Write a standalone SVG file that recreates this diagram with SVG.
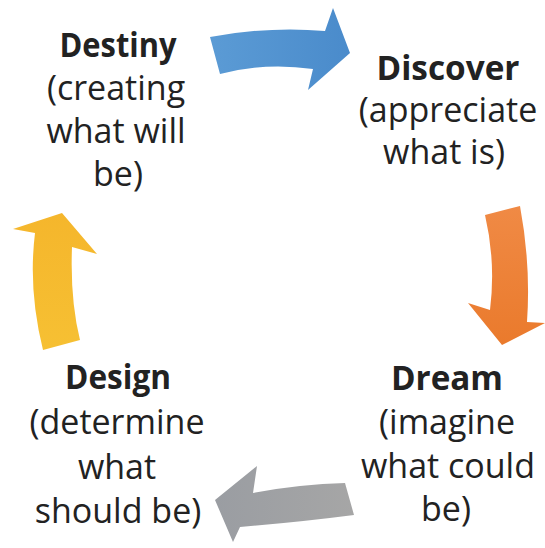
<svg xmlns="http://www.w3.org/2000/svg" width="545" height="548" viewBox="0 0 545 548">
  <style>
    text { font-family: "Open Sans", "Noto Sans", "DejaVu Sans", sans-serif; font-size: 34px; fill: #222222; text-anchor: middle; }
    .title { font-weight: bold; }
  </style>
  <defs>
    <linearGradient id="gBlue" x1="0" y1="0" x2="1" y2="0">
      <stop offset="0" stop-color="#5b9bd5"/>
      <stop offset="1" stop-color="#4a8bcb"/>
    </linearGradient>
    <linearGradient id="gOrange" x1="0" y1="0" x2="0" y2="1">
      <stop offset="0" stop-color="#f08a45"/>
      <stop offset="1" stop-color="#ea7a2c"/>
    </linearGradient>
    <linearGradient id="gGray" x1="1" y1="0" x2="0" y2="0">
      <stop offset="0" stop-color="#a6a6a6"/>
      <stop offset="1" stop-color="#9a9da2"/>
    </linearGradient>
    <linearGradient id="gYellow" x1="0" y1="1" x2="0" y2="0">
      <stop offset="0" stop-color="#f6c033"/>
      <stop offset="1" stop-color="#f5b62c"/>
    </linearGradient>
  </defs>
  <rect width="545" height="548" fill="#ffffff"/>

  <g id="connectors">
    <path id="arrow-destiny-discover" fill="url(#gBlue)" d="M210,37 Q270,26 325,31 L333,8 L350,53 L308,90 L313,69 Q265,62 220,74 Z"/>
    <path id="arrow-discover-dream" fill="url(#gOrange)" d="M520,206 Q531,265 527,322 L545,323 L502,345 L468,303 L490,310 Q496,262 485,215 Z"/>
    <path id="arrow-dream-design" fill="url(#gGray)" d="M345,483 Q300,484 253,493 L257,466 L215,500 L233,542 L240,527 Q300,522 354,515 Z"/>
    <path id="arrow-design-destiny" fill="url(#gYellow)" d="M43,350 Q28,290 35,233 L13,229 L62,213 L97,254 L72,247 Q70,300 80,340 Z"/>
  </g>

  <g id="node-destiny">
    <text class="title" x="118" y="57" textLength="117" lengthAdjust="spacingAndGlyphs">Destiny</text>
    <text x="116" y="100">(creating</text>
    <text x="116" y="143">what will</text>
    <text x="118" y="186">be)</text>
  </g>

  <g id="node-discover">
    <text class="title" x="448" y="80" textLength="143" lengthAdjust="spacingAndGlyphs">Discover</text>
    <text x="448" y="122">(appreciate</text>
    <text x="444" y="164">what is)</text>
  </g>

  <g id="node-dream">
    <text class="title" x="447" y="390" textLength="112" lengthAdjust="spacingAndGlyphs">Dream</text>
    <text x="447" y="434">(imagine</text>
    <text x="448" y="478">what could</text>
    <text x="446" y="521">be)</text>
  </g>

  <g id="node-design">
    <text class="title" x="118" y="389" textLength="106" lengthAdjust="spacingAndGlyphs">Design</text>
    <text x="117" y="434">(determine</text>
    <text x="117" y="479">what</text>
    <text x="118" y="523">should be)</text>
  </g>
</svg>
